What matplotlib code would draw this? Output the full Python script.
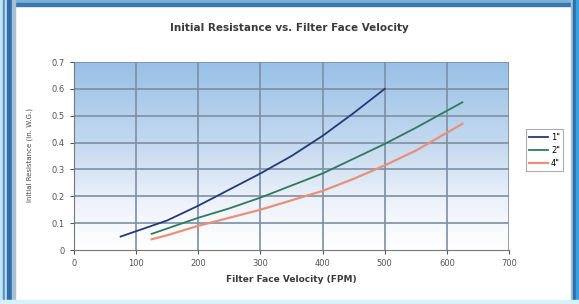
import numpy as np
import matplotlib
matplotlib.use("Agg")
import matplotlib.pyplot as plt
from matplotlib.colors import LinearSegmentedColormap
from matplotlib.patches import Rectangle

# Data
vel_1in = [75, 100, 150, 200, 250, 300, 350, 400, 450, 500]
res_1in = [0.05, 0.07, 0.11, 0.165, 0.225, 0.285, 0.35, 0.425, 0.51, 0.60]
vel_2in = [125, 150, 200, 250, 300, 350, 400, 450, 500, 550, 625]
res_2in = [0.06, 0.08, 0.12, 0.155, 0.195, 0.24, 0.285, 0.34, 0.395, 0.455, 0.55]
vel_4in = [125, 150, 200, 250, 300, 350, 400, 450, 500, 550, 625]
res_4in = [0.04, 0.055, 0.09, 0.12, 0.15, 0.185, 0.22, 0.265, 0.315, 0.37, 0.47]
labels = ['1"', '2"', '4"']
x_ticks = [0, 100, 200, 300, 400, 500, 600, 700]
y_ticks = [0, 0.1, 0.2, 0.3, 0.4, 0.5, 0.6, 0.7]
y_tick_labels = ['0', '0.1', '0.2', '0.3', '0.4', '0.5', '0.6', '0.7']

fig = plt.figure(figsize=(5.79, 3.04), dpi=100)
fig.patch.set_facecolor('white')

# Frame around the figure
W, H = 579, 304
def frame_rect(x, y, w, h, c):
    fig.patches.append(Rectangle((x / W, 1 - (y + h) / H), w / W, h / H,
                                 transform=fig.transFigure, color=c, zorder=0))
frame_rect(0, 0, W, 3, '#7fb0d8')
frame_rect(0, 3, W, 3, '#3a78b0')
frame_rect(0, 0, 3, H, '#bfe6f5')
frame_rect(3, 0, 2, H, '#5a8fb8')
frame_rect(5, 0, 2, H, '#bfe0f0')
frame_rect(7, 0, 5, H, '#2e6fa8')
frame_rect(12, 0, 3, H, '#a9bfd4')
frame_rect(571, 0, 2, H, '#a9bfd4')
frame_rect(573, 0, 3, H, '#2e6fa8')
frame_rect(576, 0, 3, H, '#3aa0e0')
frame_rect(0, 300, W, 4, '#d8f0fa')

ax = fig.add_axes([74 / W, 1 - 250 / H, 435 / W, 188 / H])

# Gradient background
cmap = LinearSegmentedColormap.from_list(
    'bg', [(0, '#ffffff'), (0.25, '#eef3fa'), (0.55, '#c6daf0'), (1, '#98c0e6')])
grad = np.linspace(0, 1, 256).reshape(-1, 1)
ax.imshow(grad, aspect='auto', cmap=cmap, origin='lower',
          extent=[0, 700, 0, 0.7], zorder=0)

for x in x_ticks[1:]:
    ax.axvline(x, color='#7d8fa3', lw=1.2, zorder=1)
for y in y_ticks[1:]:
    ax.axhline(y, color='#7d8fa3', lw=1.2, zorder=1)

ax.plot(vel_1in, res_1in, color='#27387a', lw=1.3, label=labels[0], zorder=3)
ax.plot(vel_2in, res_2in, color='#2f7a5e', lw=1.3, label=labels[1], zorder=3)
ax.plot(vel_4in, res_4in, color='#e8907a', lw=1.6, label=labels[2], zorder=3)

ax.set_xlim(0, 700)
ax.set_ylim(0, 0.7)
ax.set_xticks(x_ticks)
ax.set_yticks(y_ticks)
ax.set_yticklabels(y_tick_labels)
ax.tick_params(labelsize=6, colors='#555555', length=3, width=0.8)
for s in ['top', 'right']:
    ax.spines[s].set_visible(False)
for s in ['left', 'bottom']:
    ax.spines[s].set_color('#777777')

fig.text(0.5, 1 - 28 / H, 'Initial Resistance vs. Filter Face Velocity',
         ha='center', va='center', fontsize=7.5, fontweight='bold', color='#3a3a3a')
ax.set_xlabel('Filter Face Velocity (FPM)', fontsize=6.5, fontweight='bold',
              color='#3a3a3a', labelpad=5)
fig.text(30 / W, 1 - 155 / H, 'Initial Resistance (in. W.G.)', rotation=90,
         ha='center', va='center', fontsize=5, color='#444444')

leg = ax.legend(loc='center left', bbox_to_anchor=((526 - 74) / 435, 0.53),
                fontsize=6, frameon=True, fancybox=False, handlelength=2.2,
                handletextpad=0.4, borderpad=0.4, labelspacing=0.5,
                borderaxespad=0)
leg.get_frame().set_edgecolor('#999999')
leg.get_frame().set_linewidth(0.8)

fig.savefig('out.png', dpi=100)
